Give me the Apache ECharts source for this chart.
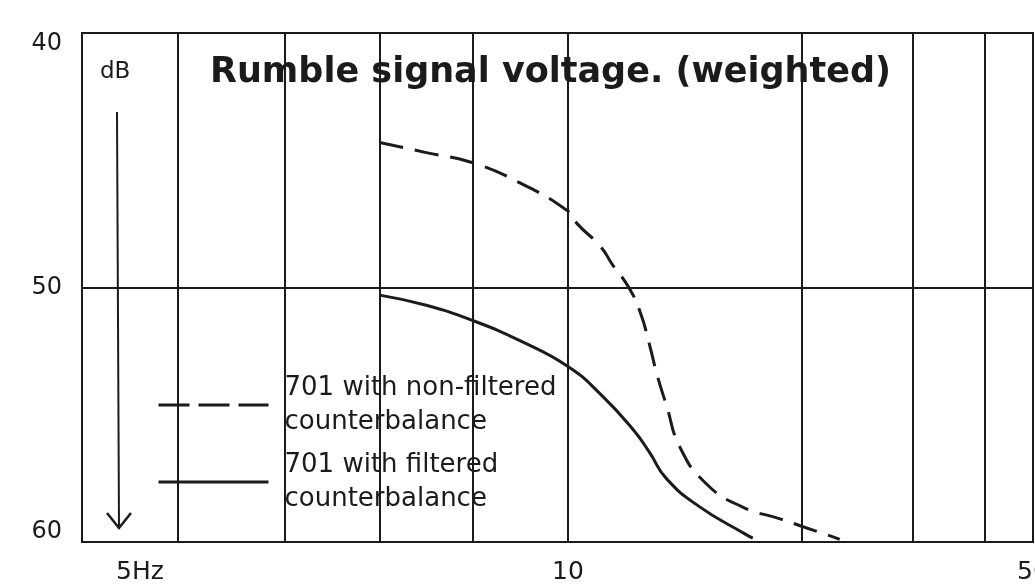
<!DOCTYPE html>
<html>
<head>
<meta charset="utf-8">
<title>Rumble signal voltage</title>
<script src="https://cdn.jsdelivr.net/npm/echarts@6/dist/echarts.min.js"></script>
<style>
  html, body { margin: 0; padding: 0; background: #fff; }
  #chart { width: 1035px; height: 585px; }
</style>
</head>
<body>
<div id="chart"></div>
<script>
// gridlines printed on the chart paper (Hz) and the labelled ones
const freqTicks = [5, 6, 7, 8, 9, 10, 20, 30, 40, 50];
const freqLabelAt = [5, 10, 50];
const freqLabels = ['5Hz', '10', '50'];

// 701 with non-filtered counterbalance
const unfilteredHz = [8, 8.5, 9, 9.5, 10, 10.4, 11.4, 11.9, 12.6, 13.1, 13.5, 13.8, 14.2, 14.8, 15.9, 17.4, 19.1, 20.1, 22.8, 23.4];
const unfilteredDb = [44.3, 44.7, 45.1, 45.9, 47.0, 47.5, 48.4, 49.1, 50.0, 51.0, 52.3, 53.4, 54.6, 56.3, 57.7, 58.6, 59.1, 59.4, 59.8, 59.9];

// 701 with filtered counterbalance
const filteredHz = [8, 8.5, 9, 9.5, 10, 11.4, 12.8, 13.5, 14.2, 15.6, 17.6, 17.9];
const filteredDb = [50.3, 50.7, 51.3, 52.1, 53.1, 54.2, 55.6, 56.5, 57.5, 58.6, 59.7, 59.85];

// the printed frequency scale is hand drawn, not a true log scale:
// where each printed gridline sits along the axis, in % of its length
const paperScale = [0, 10.1, 21.35, 31.3, 41.1, 51.1, 75.7, 87.4, 94.95, 100];
function paper(f) {
  for (let i = 1; i < freqTicks.length; i++) {
    if (f <= freqTicks[i]) {
      const t = (f - freqTicks[i - 1]) / (freqTicks[i] - freqTicks[i - 1]);
      return paperScale[i - 1] + t * (paperScale[i] - paperScale[i - 1]);
    }
  }
  return 100;
}
const toPoints = (hz, db) => hz.map((f, i) => [paper(f), db[i]]);

const ink = '#1b1b1b';
const font = 'DejaVu Sans';

const chart = echarts.init(document.getElementById('chart'), null, { renderer: 'canvas' });
chart.setOption({
  animation: false,
  backgroundColor: '#fff',
  title: {
    text: 'Rumble signal voltage. (weighted)',
    left: 210, top: 55, padding: 0,
    textStyle: { fontFamily: font, fontWeight: 'bold', fontSize: 35, color: ink }
  },
  legend: {
    orient: 'vertical', left: 157, top: 365, padding: 0, itemGap: -3,
    itemWidth: 110, itemHeight: 2, selectedMode: false,
    itemStyle: { opacity: 0 },
    formatter: name => name.replace(' counterbalance', '\ncounterbalance'),
    textStyle: { fontFamily: font, fontSize: 26, lineHeight: 34, color: ink, padding: [0, 0, 12, 11] },
    data: [
      { name: '701 with non-filtered counterbalance', lineStyle: { type: [31, 9], width: 3 } },
      { name: '701 with filtered counterbalance', lineStyle: { width: 3 } }
    ]
  },
  grid: {
    left: 82, right: 2, top: 33, bottom: 43, outerBoundsMode: 'none',
    show: true, borderColor: ink, borderWidth: 2
  },
  xAxis: {
    type: 'value', min: 0, max: 100,
    axisLine: { show: false },
    axisTick: { show: false, customValues: freqTicks.map(paper) },
    splitLine: { show: true, lineStyle: { color: ink, width: 2 } },
    axisLabel: {
      customValues: freqLabelAt.map(paper),
      margin: 18,
      formatter: v => {
        const i = freqLabelAt.findIndex(f => Math.abs(paper(f) - v) < 1e-6);
        return i === 0 ? '{hz|' + freqLabels[i] + '}' : '{n|' + freqLabels[i] + '}';
      },
      rich: {
        hz: { fontFamily: font, fontSize: 25, color: ink, padding: [0, 0, 0, 116] },
        n: { fontFamily: font, fontSize: 25, color: ink }
      }
    }
  },
  yAxis: {
    type: 'value', inverse: true, min: 40, max: 60, interval: 10,
    axisLine: { show: false }, axisTick: { show: false },
    splitLine: { lineStyle: { color: ink, width: 2 } },
    axisLabel: {
      margin: 20,
      formatter: v => v === 40 ? '{lo|40}' : v === 60 ? '{hi|60}' : '{n|' + v + '}',
      rich: {
        lo: { fontFamily: font, fontSize: 24, color: ink, padding: [21, 0, 0, 0] },
        hi: { fontFamily: font, fontSize: 24, color: ink, padding: [0, 0, 21, 0] },
        n: { fontFamily: font, fontSize: 24, color: ink }
      }
    }
  },
  graphic: [
    { type: 'text', left: 100, top: 61, style: { text: 'dB', font: '23px "DejaVu Sans"', fill: ink } },
    { type: 'line', shape: { x1: 117, y1: 112, x2: 119, y2: 527 }, style: { stroke: ink, lineWidth: 2 } },
    { type: 'polyline', shape: { points: [[107, 513], [119, 528], [131, 513]] }, style: { stroke: ink, lineWidth: 2.5, fill: null } }
  ],
  series: [
    {
      name: '701 with non-filtered counterbalance', type: 'line',
      data: toPoints(unfilteredHz, unfilteredDb),
      showSymbol: false, symbol: 'none', smooth: 0.5,
      lineStyle: { color: ink, width: 3, type: [24, 12] },
      itemStyle: { color: ink }
    },
    {
      name: '701 with filtered counterbalance', type: 'line',
      data: toPoints(filteredHz, filteredDb),
      showSymbol: false, symbol: 'none', smooth: 0.5,
      lineStyle: { color: ink, width: 3 },
      itemStyle: { color: ink }
    }
  ]
});
</script>
</body>
</html>
